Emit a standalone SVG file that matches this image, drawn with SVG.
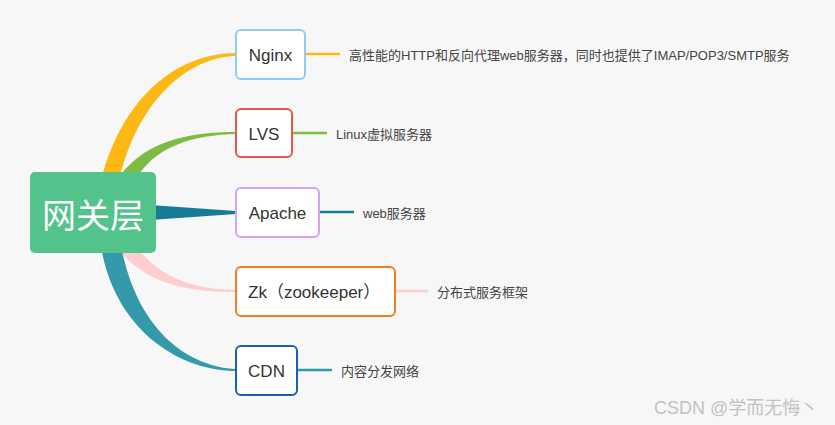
<svg xmlns="http://www.w3.org/2000/svg" width="835" height="425" viewBox="0 0 835 425">
<style>
.node{fill:#fff;stroke-width:2}
.lbl{font-family:"Liberation Sans","Noto Sans CJK SC",sans-serif;font-size:17px;fill:#333;dominant-baseline:central}
.desc{font-family:"Liberation Sans","Noto Sans CJK SC",sans-serif;font-size:13px;fill:#444;dominant-baseline:central}
.ln{stroke-width:2.5;fill:none}
</style>
<rect width="835" height="425" fill="#f7f7f7"/>
<g id="connectors">
<path d="M100,185 C120,100 175,53 236,53 L236,56 C185,57 135,105 118,185 Z" fill="#fdb813"/>
<path d="M114,185 C140,140 190,132 236,132 L236,134 C195,135 152,145 133,185 Z" fill="#7dbb42"/>
<path d="M150,205 L236,211 L236,214 L150,220 Z" fill="#167b96"/>
<path d="M112,240 C140,285 190,292 236,292 L236,290 C195,289 158,280 132,240 Z" fill="#ffcdcd"/>
<path d="M100,240 C112,330 180,371 236,371 L236,369 C188,367 135,330 120,240 Z" fill="#3499a9"/>
<line class="ln" x1="305" y1="54" x2="340" y2="54" stroke="#fdb813"/>
<line class="ln" x1="292" y1="133" x2="327" y2="133" stroke="#7dbb42"/>
<line class="ln" x1="319" y1="212" x2="354" y2="212" stroke="#167b96"/>
<line class="ln" x1="395" y1="291" x2="428" y2="291" stroke="#ffcdcd"/>
<line class="ln" x1="297" y1="370" x2="332" y2="370" stroke="#3499a9"/>
</g>
<g id="root">
<rect x="30" y="172" width="126" height="81" rx="5" fill="#51c38b"/>
<text x="93" y="213" text-anchor="middle" font-family="'Noto Sans CJK SC',sans-serif" font-size="34" fill="#fff" dominant-baseline="central">网关层</text>
</g>
<g id="nginx">
<rect class="node" x="236" y="30" width="69" height="49" rx="5" stroke="#90caf9"/>
<text class="lbl" x="270.5" y="55" text-anchor="middle">Nginx</text>
<text class="desc" x="349" y="55">高性能的HTTP和反向代理web服务器，同时也提供了IMAP/POP3/SMTP服务</text>
</g>
<g id="lvs">
<rect class="node" x="236" y="109" width="56" height="48" rx="5" stroke="#e5554b"/>
<text class="lbl" x="264" y="134" text-anchor="middle">LVS</text>
<text class="desc" x="336" y="134">Linux虚拟服务器</text>
</g>
<g id="apache">
<rect class="node" x="236" y="188" width="83" height="49" rx="5" stroke="#d6a3ee"/>
<text class="lbl" x="277.5" y="213" text-anchor="middle">Apache</text>
<text class="desc" x="363" y="213">web服务器</text>
</g>
<g id="zk">
<rect class="node" x="236" y="267" width="159" height="49" rx="5" stroke="#ee7e2a"/>
<text class="lbl" x="248" y="292">Zk（zookeeper）</text>
<text class="desc" x="437" y="292">分布式服务框架</text>
</g>
<g id="cdn">
<rect class="node" x="236" y="346" width="61" height="49" rx="5" stroke="#1a5fb0"/>
<text class="lbl" x="266.5" y="371" text-anchor="middle">CDN</text>
<text class="desc" x="341" y="371">内容分发网络</text>
</g>
<text x="654" y="414" font-family="'Liberation Sans','Noto Sans CJK SC',sans-serif" font-size="18" fill="#c2c2c2">CSDN @学而无悔丶</text>
</svg>
